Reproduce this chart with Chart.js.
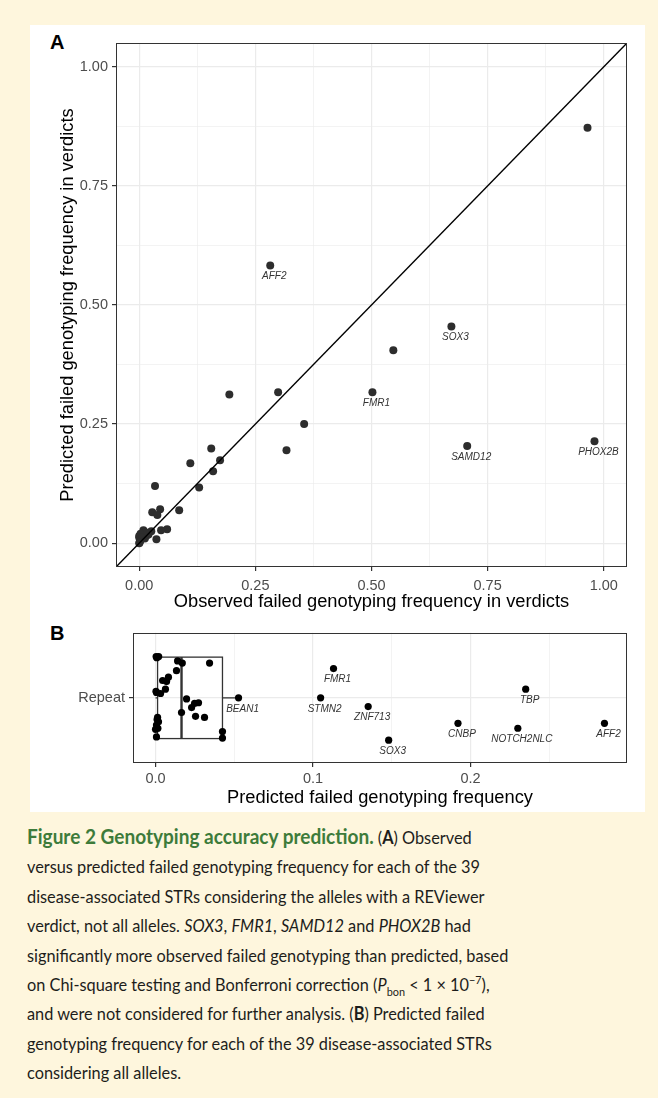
<!DOCTYPE html>
<html><head><meta charset="utf-8">
<script src="https://cdn.jsdelivr.net/npm/chart.js@4.4.0/dist/chart.umd.min.js"></script>
<style>
html,body{margin:0;padding:0;background:#FEF6DD;}
body{width:658px;height:1098px;position:relative;overflow:hidden;font-family:"Liberation Sans",Arial,sans-serif;}
#panel{position:absolute;left:30px;top:25px;width:615px;height:787px;background:#fff;}
#wrapA{position:absolute;left:0;top:0;width:615px;height:595px;}
#wrapB{position:absolute;left:0;top:595px;width:615px;height:190px;}
.plabel{position:absolute;font:bold 20px/20px "Liberation Sans",Arial,sans-serif;color:#000;}
#caption{position:absolute;left:27px;top:821px;font-family:Lato,"Open Sans",sans-serif;font-size:18px;line-height:29.4px;color:#1d1d1b;white-space:nowrap;transform:scaleX(0.906);transform-origin:0 0;}
#caption .fig{color:#3d7b3a;font-weight:bold;font-size:21px;}
#caption sub,#caption sup{font-size:12px;line-height:0;}
</style>
</head>
<body>
<div id="panel">
  <div class="plabel" style="left:20px;top:7px;">A</div>
  <div id="wrapA"><canvas id="cA" width="615" height="595"></canvas></div>
  <div class="plabel" style="left:20px;top:598px;">B</div>
  <div id="wrapB"><canvas id="cB" width="615" height="190"></canvas></div>
</div>
<div id="caption">
<span class="fig">Figure 2 Genotyping accuracy prediction.</span> (<b>A</b>) Observed<br>
versus predicted failed genotyping frequency for each of the 39<br>
disease-associated STRs considering the alleles with a REViewer<br>
verdict, not all alleles. <i>SOX3</i>, <i>FMR1</i>, <i>SAMD12</i> and <i>PHOX2B</i> had<br>
significantly more observed failed genotyping than predicted, based<br>
on Chi-square testing and Bonferroni correction (<i>P</i><sub>bon</sub> &lt; 1 &times; 10<sup>&minus;7</sup>),<br>
and were not considered for further analysis. (<b>B</b>) Predicted failed<br>
genotyping frequency for each of the 39 disease-associated STRs<br>
considering all alleles.
</div>
<script>
// ---------- Panel A data ----------
const observedA  = [0.965,0.282,0.672,0.547,0.502,0.706,0.980,0.194,0.299,0.355,0.317,0.155,0.110,0.174,0.159,0.129,0.034,0.086,0.045,0.028,0.039,0.060,0.047,0.037,0.026,0.009,0.015,0.000,0.000,0.005,0.000,0.020,0.010,0.002,0.012,0.003,0.007,0.001,0.018];
const predictedA = [0.872,0.583,0.455,0.405,0.317,0.204,0.214,0.312,0.317,0.250,0.195,0.199,0.168,0.174,0.151,0.117,0.120,0.069,0.071,0.065,0.059,0.029,0.027,0.008,0.025,0.027,0.015,0.015,0.000,0.019,0.012,0.018,0.022,0.005,0.010,0.020,0.013,0.002,0.022];
const geneA      = ['','AFF2','SOX3','','FMR1','SAMD12','PHOX2B','','','','','','','','','','','','','','','','','','','','','','','','','','','','','','','',''];
const ticksA     = [0,0.125,0.25,0.375,0.5,0.625,0.75,0.875,1];
const majorA     = [0,0.25,0.5,0.75,1];
const rangeA     = [-0.05,1.05];

// ---------- Panel B data ----------
const predB   = [0.0527,0.1048,0.113,0.135,0.148,0.192,0.230,0.235,0.285,
                 0.0004,0.0020,0.0140,0.0170,0.0343,0.0133,0.0082,0.0045,0.0070,0.0063,0.0006,0.0032,0.0197,0.0229,0.0248,0.0273,0.0165,0.0254,0.0311,0.0013,0.0019,0.0006,0.0000,0.0006,0.0425,0.0425,0.0010,0.0003,0.0015,0.0008];
const jitterB = [1.00,1.00,1.27,0.92,0.61,0.765,0.72,1.08,0.765,
                 1.38,1.38,1.34,1.32,1.32,1.25,1.19,1.16,1.15,1.08,1.05,1.04,0.99,0.91,0.95,0.955,0.865,0.83,0.82,0.82,0.78,0.75,0.71,0.64,0.69,0.63,0.80,1.06,0.72,1.37];
const geneB   = ['BEAN1','STMN2','FMR1','ZNF713','SOX3','CNBP','NOTCH2NLC','TBP','AFF2'];
const boxB    = {min:0, q1:0.0013, median:0.0165, q3:0.0425, max:0.0527};
const ticksB  = [0,0.05,0.1,0.15,0.2,0.25];
const majorB  = [0,0.1,0.2];
const rangeB  = [-0.0143,0.2993];
const catB    = ['Repeat'];

const FONT = '"Liberation Sans", Arial, sans-serif';
const TICK_FONT = {size:14.5,family:FONT};
const TITLE_FONT = {size:18.3,family:FONT};
const isIn = (arr,v)=>arr.some(m=>Math.abs(m-v)<1e-9);

const frame = {
  id:'frame',
  afterDraw(chart){
    const a=chart.chartArea, c=chart.ctx;
    c.save(); c.strokeStyle='#333'; c.lineWidth=1;
    c.strokeRect(Math.round(a.left)+0.5,Math.round(a.top)+0.5,Math.round(a.right-a.left)-1,Math.round(a.bottom-a.top)-1);
    c.restore();
  }
};
function labelPlugin(labels){
  return {
    id:'ptlabels',
    afterDatasetsDraw(chart){
      const ds=chart.data.datasets[chart.data.datasets.length-1];
      const c=chart.ctx;
      c.save(); c.font='italic 10px '+FONT; c.fillStyle='#333'; c.textAlign='center'; c.textBaseline='middle';
      labels.forEach((t,i)=>{ if(!t) return;
        const p=ds.data[i];
        const x=chart.scales.x.getPixelForValue(p.x), y=chart.scales.y.getPixelForValue(p.y);
        c.fillText(t,x+4,y+11);
      });
      c.restore();
    }
  };
}
function gridOpts(major){
  return {
    color:'#EBEBEB',
    lineWidth:ctx=> (ctx.tick && isIn(major,ctx.tick.value))?1.2:0.6,
    tickColor:ctx=> (ctx.tick && isIn(major,ctx.tick.value))?'#333':'rgba(0,0,0,0)',
    tickLength:4, drawTicks:true
  };
}

// ---------- Chart A ----------
new Chart(document.getElementById('cA'),{
  type:'scatter',
  data:{datasets:[
    {type:'line',data:rangeA.map(v=>({x:v,y:v})),borderColor:'#000',borderWidth:1.4,pointRadius:0,order:0},
    {data:observedA.map((x,i)=>({x,y:predictedA[i]})),backgroundColor:'#2d2d2d',borderWidth:0,pointRadius:4,order:1}
  ]},
  options:{
    responsive:false,animation:false,devicePixelRatio:1,
    layout:{padding:{top:18,right:18,left:0,bottom:0}},
    plugins:{legend:{display:false},tooltip:{enabled:false}},
    scales:{
      x:{type:'linear',min:rangeA[0],max:rangeA[1],
        afterBuildTicks:s=>{s.ticks=ticksA.map(v=>({value:v}));},
        afterFit:s=>{s.height=53;},
        ticks:{autoSkip:false,maxRotation:0,font:TICK_FONT,color:'#4D4D4D',padding:6,
          callback:v=>isIn(majorA,v)?v.toFixed(2):''},
        grid:gridOpts(majorA),border:{display:false},
        title:{display:true,text:'Observed failed genotyping frequency in verdicts',font:TITLE_FONT,color:'#000',padding:{top:0,bottom:7}}
      },
      y:{type:'linear',min:rangeA[0],max:rangeA[1],
        afterBuildTicks:s=>{s.ticks=ticksA.map(v=>({value:v}));},
        afterFit:s=>{s.width=86;},
        ticks:{autoSkip:false,font:TICK_FONT,color:'#4D4D4D',padding:4,
          callback:v=>isIn(majorA,v)?v.toFixed(2):''},
        grid:gridOpts(majorA),border:{display:false},
        title:{display:true,text:'Predicted failed genotyping frequency in verdicts',font:TITLE_FONT,color:'#000',padding:{top:27,bottom:0}}
      }
    }
  },
  plugins:[frame,labelPlugin(geneA)]
});

// ---------- Chart B ----------
const boxPlugin={
  id:'box',
  beforeDatasetsDraw(chart){
    const xs=chart.scales.x, ys=chart.scales.y, c=chart.ctx;
    const yT=ys.getPixelForValue(1.375), yB=ys.getPixelForValue(0.625), yM=ys.getPixelForValue(1);
    const X=v=>xs.getPixelForValue(v);
    c.save(); c.strokeStyle='#333'; c.lineWidth=1.3;
    c.strokeRect(X(boxB.q1),yT,X(boxB.q3)-X(boxB.q1),yB-yT);
    c.beginPath(); c.moveTo(X(boxB.q3),yM); c.lineTo(X(boxB.max),yM);
    c.moveTo(X(boxB.q1),yM); c.lineTo(X(boxB.min),yM); c.stroke();
    c.lineWidth=2.4; c.beginPath(); c.moveTo(X(boxB.median),yT); c.lineTo(X(boxB.median),yB); c.stroke();
    c.restore();
  }
};
new Chart(document.getElementById('cB'),{
  type:'scatter',
  data:{datasets:[
    {data:predB.map((x,i)=>({x,y:jitterB[i]})),backgroundColor:'#000',borderWidth:0,pointRadius:3.6}
  ]},
  options:{
    responsive:false,animation:false,devicePixelRatio:1,
    layout:{padding:{top:10,right:18,left:0,bottom:0}},
    plugins:{legend:{display:false},tooltip:{enabled:false}},
    scales:{
      x:{type:'linear',min:rangeB[0],max:rangeB[1],
        afterBuildTicks:s=>{s.ticks=ticksB.map(v=>({value:v}));},
        afterFit:s=>{s.height=47;},
        ticks:{autoSkip:false,maxRotation:0,font:TICK_FONT,color:'#4D4D4D',padding:3,
          callback:v=>isIn(majorB,v)?v.toFixed(1):''},
        grid:gridOpts(majorB),border:{display:false},
        title:{display:true,text:'Predicted failed genotyping frequency',font:TITLE_FONT,color:'#000',padding:{top:0,bottom:1}}
      },
      y:{type:'linear',min:0.4,max:1.6,
        afterBuildTicks:s=>{s.ticks=[{value:1}];},
        afterFit:s=>{s.width=103;},
        ticks:{autoSkip:false,font:TICK_FONT,color:'#4D4D4D',padding:4,callback:()=>catB[0]},
        grid:gridOpts([1]),border:{display:false}
      }
    }
  },
  plugins:[frame,boxPlugin,labelPlugin(geneB)]
});
</script>
</body></html>
